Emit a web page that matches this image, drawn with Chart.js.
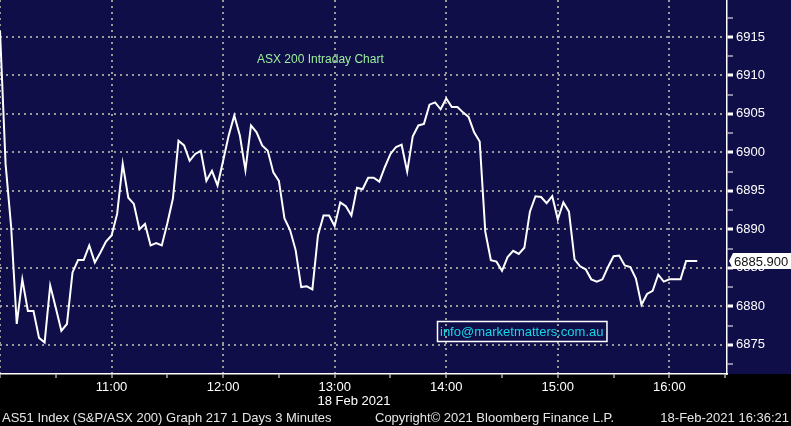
<!DOCTYPE html>
<html>
<head>
<meta charset="utf-8">
<script src="https://cdn.jsdelivr.net/npm/chart.js@4/dist/chart.umd.min.js"></script>
<style>
html,body{margin:0;padding:0;background:#000;}
#wrap{width:791px;height:426px;position:relative;}
canvas{display:block;}
</style>
</head>
<body>
<div id="wrap"><canvas id="c" width="791" height="426"></canvas></div>
<script>
// ---- data ----
const times = [
"10:00","10:03","10:06","10:09","10:12","10:15","10:18","10:21","10:24","10:27","10:30","10:33","10:36","10:39","10:42","10:45","10:48","10:51","10:54","10:57",
"11:00","11:03","11:06","11:09","11:12","11:15","11:18","11:21","11:24","11:27","11:30","11:33","11:36","11:39","11:42","11:45","11:48","11:51","11:54","11:57",
"12:00","12:03","12:06","12:09","12:12","12:15","12:18","12:21","12:24","12:27","12:30","12:33","12:36","12:39","12:42","12:45","12:48","12:51","12:54","12:57",
"13:00","13:03","13:06","13:09","13:12","13:15","13:18","13:21","13:24","13:27","13:30","13:33","13:36","13:39","13:42","13:45","13:48","13:51","13:54","13:57",
"14:00","14:03","14:06","14:09","14:12","14:15","14:18","14:21","14:24","14:27","14:30","14:33","14:36","14:39","14:42","14:45","14:48","14:51","14:54","14:57",
"15:00","15:03","15:06","15:09","15:12","15:15","15:18","15:21","15:24","15:27","15:30","15:33","15:36","15:39","15:42","15:45","15:48","15:51","15:54","15:57",
"16:00","16:03","16:06","16:09","16:12","16:15"
];
const prices = [
6915.8,6898.5,6890.3,6877.7,6883.5,6879.4,6879.4,6875.9,6875.3,6882.7,6879.8,6876.8,6877.7,6884.4,6886.0,6886.0,6887.9,6885.7,6887.0,6888.4,
6889.2,6892.0,6898.5,6894.1,6893.3,6890.0,6890.7,6887.9,6888.2,6887.9,6890.8,6894.0,6901.5,6900.9,6898.9,6899.8,6900.2,6896.3,6897.6,6895.7,
6898.9,6902.2,6904.8,6902.2,6897.7,6903.5,6902.6,6900.9,6900.2,6897.4,6896.3,6891.4,6889.9,6887.3,6882.5,6882.6,6882.2,6889.2,6891.8,6891.8,
6890.4,6893.5,6893.0,6891.8,6895.4,6895.2,6896.7,6896.7,6896.2,6898.1,6899.8,6900.7,6901.0,6897.5,6902.1,6903.5,6903.7,6906.2,6906.5,6905.6,
6907.0,6905.9,6905.9,6905.2,6904.6,6902.6,6901.4,6889.7,6886.0,6885.8,6884.6,6886.4,6887.2,6886.8,6887.6,6892.3,6894.3,6894.2,6893.4,6894.3,
6891.3,6893.5,6892.3,6886.1,6885.2,6884.8,6883.5,6883.2,6883.5,6885.1,6886.5,6886.6,6885.3,6885.1,6883.6,6880.2,6881.6,6882.0,6884.1,6883.2,
6883.5,6883.5,6883.5,6885.9,6885.9,6885.9
];
const xTickLabels = ["11:00","12:00","13:00","14:00","15:00","16:00"];
const yTickLabels = [6875,6880,6885,6890,6895,6900,6905,6910,6915];
const lastLabel = "6885.900";
const dateLabel = "18 Feb 2021";
const chartTitle = "ASX 200 Intraday Chart";
const watermark = "info@marketmatters.com.au";
const footerLeft = "AS51 Index (S&P/ASX 200) Graph 217 1 Days 3 Minutes";
const footerMid = "Copyright\u00A9 2021 Bloomberg Finance L.P.";
const footerRight = "18-Feb-2021 16:36:21";

// ---- helpers ----
const toMin = t => { const p = t.split(':'); return (parseInt(p[0],10) - 10) * 60 + parseInt(p[1],10); };
const minToLabel = m => { const h = 10 + Math.floor(m / 60); const mm = m % 60; return h + ':' + (mm < 10 ? '0' : '') + mm; };
const points = times.map((t, i) => ({x: toMin(t), y: prices[i]}));

const FONT = "'Liberation Sans', Arial, sans-serif";
const NAVY = '#100e48';
const GRID = '#9a9a9a';

const bgPlugin = {
  id: 'bg',
  beforeDraw(chart) {
    const {ctx, chartArea, width} = chart;
    ctx.save();
    ctx.fillStyle = '#000';
    ctx.fillRect(0, 0, width, chart.height);
    ctx.fillStyle = NAVY;
    ctx.fillRect(0, 0, width, chartArea.bottom);
    ctx.restore();
  }
};

const overlayPlugin = {
  id: 'overlay',
  afterDraw(chart) {
    const {ctx, chartArea} = chart;
    const xs = chart.scales.x, ys = chart.scales.y;
    ctx.save();
    // title
    ctx.font = '12px ' + FONT;
    ctx.fillStyle = '#9cf09c';
    ctx.textBaseline = 'middle';
    ctx.textAlign = 'left';
    ctx.fillText(chartTitle, 257, 60);
    // watermark box
    ctx.font = '13px ' + FONT;
    const ww = ctx.measureText(watermark).width;
    const bx = 437, by = 321, bw = ww + 6, bh = 20;
    ctx.strokeStyle = '#ffffff';
    ctx.lineWidth = 1.5;
    ctx.strokeRect(bx + 0.5, by + 0.5, bw, bh);
    ctx.fillStyle = '#16d6e6';
    ctx.fillText(watermark, bx + 3, by + bh / 2 + 1);
    // date under 13:00
    ctx.font = '13px ' + FONT;
    ctx.fillStyle = '#ffffff';
    const p13 = xs.getPixelForValue(toMin('13:00'));
    const w13 = ctx.measureText('13:00').width;
    ctx.fillText(dateLabel, p13 - w13 / 2 - 1, 401);
    // footer
    ctx.fillStyle = '#e6e6e6';
    ctx.fillText(footerLeft, 2, 418);
    ctx.fillText(footerMid, 375, 418);
    ctx.textAlign = 'right';
    ctx.fillText(footerRight, 789, 418);
    // last price tag
    const ly = Math.round(ys.getPixelForValue(prices[prices.length - 1]));
    const tx = chartArea.right + 6;
    ctx.fillStyle = '#ffffff';
    ctx.beginPath();
    ctx.moveTo(chartArea.right + 2, ly);
    ctx.lineTo(tx, ly - 8);
    ctx.lineTo(791, ly - 8);
    ctx.lineTo(791, ly + 8);
    ctx.lineTo(tx, ly + 8);
    ctx.closePath();
    ctx.fill();
    ctx.fillStyle = '#111';
    ctx.textAlign = 'left';
    ctx.font = '13px ' + FONT;
    ctx.fillText(lastLabel, tx + 1, ly + 1);
    ctx.restore();
  }
};

new Chart(document.getElementById('c'), {
  type: 'line',
  data: {
    datasets: [{
      data: points,
      borderColor: '#ffffff',
      borderWidth: 2,
      pointRadius: 0,
      tension: 0,
      fill: false
    }]
  },
  options: {
    responsive: false,
    animation: false,
    devicePixelRatio: 1,
    layout: {padding: 0},
    plugins: {legend: {display: false}, tooltip: {enabled: false}, title: {display: false}},
    scales: {
      x: {
        type: 'linear',
        position: 'bottom',
        min: 0,
        max: 391,
        afterFit(s) { s.height = 52; s.paddingLeft = 0; s.paddingRight = 0; },
        ticks: {
          stepSize: 30,
          autoSkip: false,
          maxRotation: 0,
          includeBounds: false,
          padding: 2,
          color: '#ffffff',
          font: {family: FONT, size: 13},
          callback: v => { const l = minToLabel(v); return xTickLabels.includes(l) ? l : ''; }
        },
        grid: {
          color: c => (c.tick && c.tick.value % 60 === 0) ? GRID : 'rgba(0,0,0,0)',
          lineWidth: 2,
          drawTicks: true,
          tickLength: 4,
          tickColor: '#ffffff',
          tickWidth: 1,
          tickBorderDash: []
        },
        border: {display: true, color: '#ffffff', width: 1.5, dash: [2, 4]}
      },
      y: {
        type: 'linear',
        position: 'right',
        min: 6871.2,
        max: 6919.8,
        afterFit(s) { s.width = 64; s.paddingTop = 0; s.paddingBottom = 0; },
        ticks: {
          stepSize: 2.5,
          includeBounds: false,
          autoSkip: false,
          padding: 3,
          color: '#ffffff',
          font: {family: FONT, size: 13},
          callback: v => yTickLabels.includes(v) ? String(v) : ''
        },
        grid: {
          color: c => (c.tick && yTickLabels.includes(c.tick.value)) ? GRID : 'rgba(0,0,0,0)',
          lineWidth: 2,
          drawTicks: true,
          tickLength: 6,
          tickColor: '#ffffff',
          tickWidth: c => (c.tick && yTickLabels.includes(c.tick.value)) ? 3 : 1,
          tickBorderDash: []
        },
        border: {display: true, color: '#ffffff', width: 1.5, dash: [2, 4]}
      }
    }
  },
  plugins: [bgPlugin, overlayPlugin]
});
</script>
</body>
</html>
